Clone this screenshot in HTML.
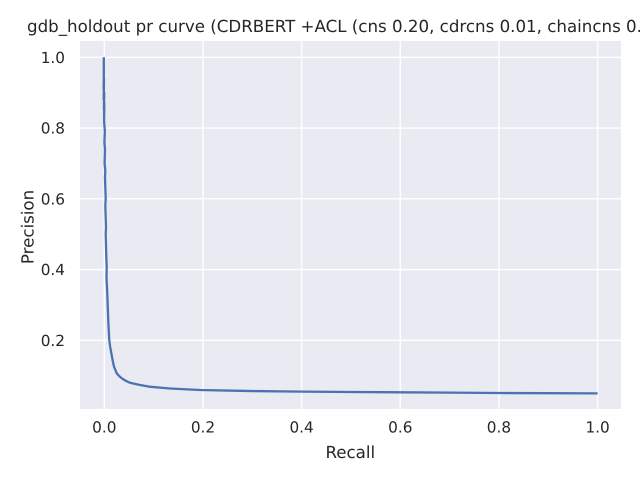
<!DOCTYPE html>
<html>
<head>
<meta charset="utf-8">
<title>gdb_holdout pr curve</title>
<style>
html,body{margin:0;padding:0;background:#fff;width:640px;height:480px;overflow:hidden}
svg{display:block;font-family:"DejaVu Sans","Liberation Sans",sans-serif;fill:#262626;text-rendering:geometricPrecision}
</style>
</head>
<body>
<svg id="chart" width="640" height="480" viewBox="0 0 640 480" xmlns="http://www.w3.org/2000/svg">
<rect x="80" y="41" width="541" height="368" fill="#EAEAF2"/>
<g id="grid"></g>
<g id="series"></g>
<g id="ticks"></g>
<text x="27" y="32" font-size="16.67">gdb_holdout pr curve (CDRBERT +ACL (cns 0.20, cdrcns 0.01, chaincns 0.</text>
<text x="350.3" y="458" font-size="16.67" text-anchor="middle">Recall</text>
<text x="33.5" y="227" font-size="16.67" text-anchor="middle" transform="rotate(-90 33.5 227)">Precision</text>
</svg>
<script>
var xTickValues = [0, 0.2, 0.4, 0.6, 0.8, 1.0];
var yTickValues = [0.2, 0.4, 0.6, 0.8, 1.0];
var recall = [-0.001, -0.001, -0.0014, -0.0006, -0.0012, -0.0002, -0.0008, 0, -0.0004, 0.0012, 0.0002, 0.0014, 0.0006, 0.002, 0.0014, 0.0028, 0.002, 0.0034, 0.0028, 0.004, 0.0049, 0.0044, 0.0058, 0.0069, 0.0082, 0.0101, 0.012, 0.015, 0.0172, 0.0197, 0.0252, 0.03, 0.0355, 0.043, 0.052, 0.0723, 0.0912, 0.133, 0.194, 0.3, 0.4, 0.5, 0.6, 0.7, 0.8, 0.9, 1.0];
var precision = [1.0, 0.95, 0.91, 0.94, 0.88, 0.9, 0.85, 0.87, 0.82, 0.79, 0.76, 0.74, 0.7, 0.68, 0.66, 0.6, 0.58, 0.52, 0.5, 0.44, 0.404, 0.38, 0.34, 0.3, 0.25, 0.2, 0.181, 0.158, 0.1415, 0.1254, 0.1067, 0.099, 0.0926, 0.086, 0.08, 0.0737, 0.0689, 0.0637, 0.0595, 0.0565, 0.0548, 0.0538, 0.053, 0.052, 0.051, 0.0505, 0.05];

var NS = 'http://www.w3.org/2000/svg';
function xScale(v) { return 104.3 + v * 493.3; }
function yScale(v) { return 57.3 + (1 - v) * 353.75; }
function make(tag, attrs, parent) {
  var el = document.createElementNS(NS, tag);
  for (var k in attrs) el.setAttribute(k, attrs[k]);
  parent.appendChild(el);
  return el;
}
var grid = document.getElementById('grid');
var ticks = document.getElementById('ticks');
var series = document.getElementById('series');

xTickValues.forEach(function (v) {
  var line = make('line', {x1: xScale(v), x2: xScale(v), y1: 41, y2: 409, stroke: '#fff', 'stroke-width': 1.39}, grid);
  
  
  var label = make('text', {x: xScale(v), y: 432.5, 'font-size': 15.28, 'text-anchor': 'middle'}, ticks);
  label.textContent = v.toFixed(1);
  
  
});
yTickValues.forEach(function (v) {
  var line = make('line', {x1: 80, x2: 621, y1: yScale(v), y2: yScale(v), stroke: '#fff', 'stroke-width': 1.39}, grid);
  
  
  var label = make('text', {x: 65, y: yScale(v) + 5.5, 'font-size': 15.28, 'text-anchor': 'end'}, ticks);
  label.textContent = v.toFixed(1);
  
  
});
var d = recall.map(function (r, i) {
  return (i ? 'L' : 'M') + xScale(r).toFixed(2) + ' ' + yScale(precision[i]).toFixed(2);
}).join('');
var curve = make('path', {d: d, fill: 'none', stroke: '#4C72B0', 'stroke-width': 2.3, 'stroke-linejoin': 'round', 'stroke-linecap': 'butt'}, series);


</script>
</body>
</html>
